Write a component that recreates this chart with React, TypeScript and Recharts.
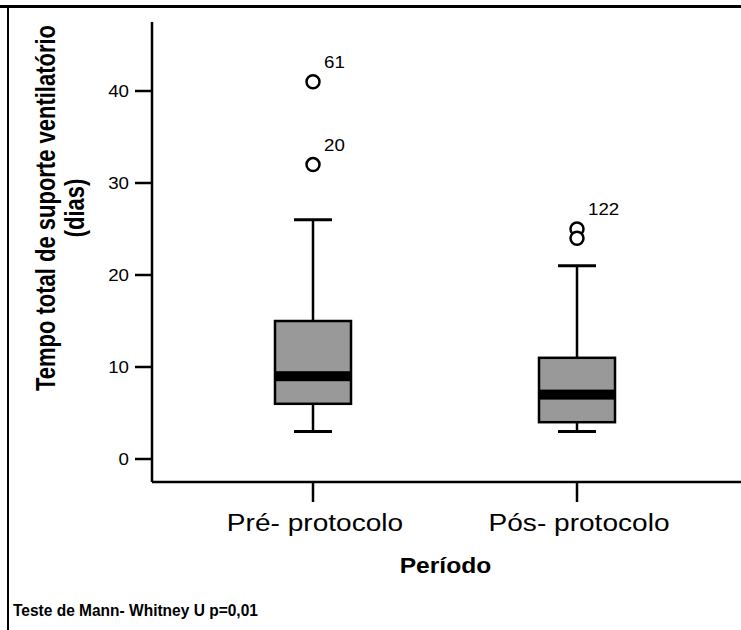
import { ComposedChart, Bar, Scatter, XAxis, YAxis, Label } from "recharts";

const categories = ["Pré- protocolo", "Pós- protocolo"];
const whiskerLow = [3, 3];
const quartile1 = [6, 4];
const medians = [9, 7];
const quartile3 = [15, 11];
const whiskerHigh = [26, 21];
const outliersUpper = [41, 25];
const outliersLower = [32, 24];
const upperLabels = ["61", "122"];
const lowerLabels = ["20", ""];
const yTicks = [0, 10, 20, 30, 40];

const data = categories.map((cat, i) => ({
  cat,
  range: [whiskerLow[i], whiskerHigh[i]],
  q1: quartile1[i],
  median: medians[i],
  q3: quartile3[i],
  hi: outliersUpper[i],
  lo: outliersLower[i],
  hiLabel: upperLabels[i],
  loLabel: lowerLabels[i],
}));

// the original picture is a bit stretched sideways
const STRETCH = 1.17;
const FONT = "'Liberation Sans', Arial, sans-serif";

const BoxShape = (props: any) => {
  const { x, y, width, height, payload } = props;
  const top = Math.min(y, y + height);
  const bottom = Math.max(y, y + height);
  const [lo, hi] = payload.range;
  const toY = (v: number) => bottom - ((v - lo) / (hi - lo)) * (bottom - top);
  const cx = x + width / 2;
  const cap = width / 4;
  const yQ1 = toY(payload.q1);
  const yQ3 = toY(payload.q3);
  const yMed = toY(payload.median);

  return (
    <g>
      <line x1={cx} x2={cx} y1={top} y2={bottom} stroke="#000" strokeWidth={2.5} />
      <line x1={cx - cap} x2={cx + cap} y1={top} y2={top} stroke="#000" strokeWidth={3} />
      <line x1={cx - cap} x2={cx + cap} y1={bottom} y2={bottom} stroke="#000" strokeWidth={3} />
      <rect x={x} y={yQ3} width={width} height={yQ1 - yQ3} fill="#999999" stroke="#000" strokeWidth={2.5} />
      <rect x={x} y={yMed - 5} width={width} height={10} fill="#000" />
    </g>
  );
};

const outlierShape = (labelKey: string) => (props: any) => {
  const { cx, cy, payload } = props;
  const label = payload[labelKey];
  return (
    <g>
      <circle cx={cx} cy={cy} r={6.5} fill="#fff" stroke="#000" strokeWidth={2.5} />
      {label ? (
        <text
          transform={`translate(${cx + 11},${cy - 14}) scale(${STRETCH},1)`}
          fontSize={16}
          fontFamily={FONT}
          fill="#000"
        >
          {label}
        </text>
      ) : null}
    </g>
  );
};

const XTick = (props: any) => {
  const { x, y, payload } = props;
  return (
    <text
      transform={`translate(${x + 2},${y + 29}) scale(${STRETCH},1)`}
      textAnchor="middle"
      fontSize={24}
      fontFamily={FONT}
      fill="#000"
    >
      {payload.value}
    </text>
  );
};

const YTick = (props: any) => {
  const { x, y, payload } = props;
  return (
    <text
      transform={`translate(${x},${y + 6}) scale(${STRETCH},1)`}
      textAnchor="end"
      fontSize={16}
      fontFamily={FONT}
      fill="#000"
    >
      {payload.value}
    </text>
  );
};

const XTitle = (props: any) => {
  const { viewBox } = props;
  const { x, y, width } = viewBox;
  return (
    <g fontFamily={FONT} fontWeight="bold" fill="#000">
      <text transform={`translate(${x + width / 2 - 1},${y + 91}) scale(1.12,1)`} textAnchor="middle" fontSize={22}>
        Período
      </text>
      <text transform={`translate(13,${y + 134}) scale(0.97,1)`} fontSize={16}>
        Teste de Mann- Whitney U p=0,01
      </text>
    </g>
  );
};

const YTitle = () => (
  <g fontFamily={FONT} fontWeight="bold" fill="#000" fontSize={22}>
    <text transform={`translate(55,208) rotate(-90) scale(1,1.28)`} textAnchor="middle">
      Tempo total de suporte ventilatório
    </text>
    <text transform={`translate(84,208) rotate(-90) scale(1,1.28)`} textAnchor="middle">
      (dias)
    </text>
  </g>
);

function App() {
  return (
    <div style={{ position: "absolute", left: 0, top: 0, width: 741, height: 630, background: "#fff" }}>
      <div style={{ position: "absolute", left: 0, top: 5, width: 741, height: 3, background: "#000" }} />
      <div style={{ position: "absolute", left: 7, top: 5, width: 2, height: 625, background: "#000" }} />
      <ComposedChart width={741} height={630} data={data} margin={{ top: 22, right: 0, bottom: 0, left: 0 }}>
        <XAxis
          dataKey="cat"
          height={148}
          padding={{ left: 29, right: 32 }}
          tickSize={20}
          tickMargin={0}
          tick={<XTick />}
          axisLine={{ stroke: "#000", strokeWidth: 2.5 }}
          tickLine={{ stroke: "#000", strokeWidth: 2.5 }}
        >
          <Label content={<XTitle />} />
        </XAxis>
        <YAxis
          type="number"
          width={152}
          domain={[-2.5, 47.5]}
          ticks={yTicks}
          tickSize={17}
          tickMargin={6}
          tick={<YTick />}
          axisLine={{ stroke: "#000", strokeWidth: 2.5 }}
          tickLine={{ stroke: "#000", strokeWidth: 2.5 }}
          allowDataOverflow
        >
          <Label content={<YTitle />} />
        </YAxis>
        <Bar dataKey="range" barSize={76} shape={<BoxShape />} isAnimationActive={false} />
        <Scatter dataKey="hi" shape={outlierShape("hiLabel")} isAnimationActive={false} />
        <Scatter dataKey="lo" shape={outlierShape("loLabel")} isAnimationActive={false} />
      </ComposedChart>
    </div>
  );
}

export default App;
